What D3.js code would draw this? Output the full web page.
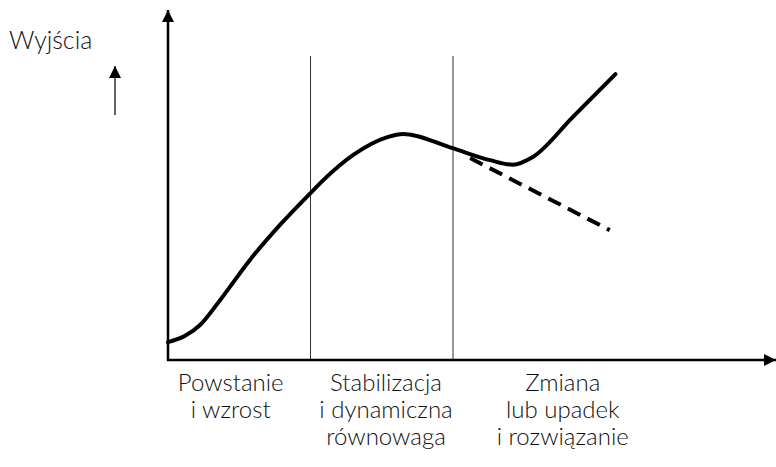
<!DOCTYPE html>
<html>
<head>
<meta charset="utf-8">
<script src="https://cdn.jsdelivr.net/npm/d3@7"></script>
<style>
  body { margin: 0; background: #fff; }
  text { font-family: Lato, "Noto Sans", sans-serif; font-weight: 300; fill: #111; }
</style>
</head>
<body>
<div id="chart"></div>
<script>
'use strict';

// Stage boundaries (x units) and stage labels
const stageBounds = [1, 2];
const stageCenters = [0.44, 1.53, 2.77];
const stageLabels = [
  ["Powstanie", "i wzrost"],
  ["Stabilizacja", "i dynamiczna", "równowaga"],
  ["Zmiana", "lub upadek", "i rozwiązanie"]
];

// Main curve (time, output)
const curveX = [0, 0.12, 0.225, 0.365, 0.575, 0.786, 1.0, 1.09, 1.30, 1.54, 1.65, 1.99, 2.26, 2.42, 2.56, 2.84, 3.14];
const curveY = [0.51, 0.69, 1.0, 1.71, 2.86, 3.86, 4.77, 5.14, 5.86, 6.37, 6.46, 6.06, 5.71, 5.58, 5.8, 6.94, 8.17];

// Decline branch (dashed)
const declineX = [2.12, 3.10];
const declineY = [5.77, 3.71];

const yLabel = "Wyjścia";

// Canvas
const W = 776, H = 467;
const svg = d3.select("#chart").append("svg")
  .attr("width", W)
  .attr("height", H);

const x = d3.scaleLinear().domain([0, 3]).range([168, 595.5]);
const y = d3.scaleLinear().domain([0, 10]).range([360, 10]);

const xEnd = W, yTop = 10;

// arrow heads
const defs = svg.append("defs");
defs.append("marker")
  .attr("id", "arrow")
  .attr("viewBox", "0 0 10 10")
  .attr("refX", 10).attr("refY", 5)
  .attr("markerWidth", 12).attr("markerHeight", 12)
  .attr("markerUnits", "userSpaceOnUse")
  .attr("orient", "auto")
  .append("path")
  .attr("d", "M0,0L10,5L0,10Z")
  .attr("fill", "#000");

// stage dividers
svg.selectAll("line.divider")
  .data(stageBounds)
  .enter()
  .append("line")
  .attr("class", "divider")
  .attr("x1", d => x(d)).attr("x2", d => x(d))
  .attr("y1", 56).attr("y2", y(0))
  .attr("stroke", "#333")
  .attr("stroke-width", 1);

// axes
svg.append("line")
  .attr("x1", x(0)).attr("x2", x(0))
  .attr("y1", y(0) + 1).attr("y2", yTop)
  .attr("stroke", "#000").attr("stroke-width", 2.5)
  .attr("marker-end", "url(#arrow)");
svg.append("line")
  .attr("x1", x(0) - 1).attr("x2", xEnd)
  .attr("y1", y(0)).attr("y2", y(0))
  .attr("stroke", "#000").attr("stroke-width", 2.5)
  .attr("marker-end", "url(#arrow)");

// main curve
const pts = curveX.map((d, i) => [d, curveY[i]]);
const line = d3.line()
  .x(d => x(d[0]))
  .y(d => y(d[1]))
  .curve(d3.curveMonotoneX);

svg.append("path")
  .attr("d", line(pts))
  .attr("fill", "none")
  .attr("stroke", "#000")
  .attr("stroke-width", 4)
  .attr("stroke-linecap", "round");

// dashed decline
const dpts = declineX.map((d, i) => [d, declineY[i]]);
svg.append("path")
  .attr("d", d3.line().x(d => x(d[0])).y(d => y(d[1]))(dpts))
  .attr("fill", "none")
  .attr("stroke", "#000")
  .attr("stroke-width", 4)
  .attr("stroke-dasharray", "14 8");

// y label with small arrow
svg.append("text")
  .attr("x", 9).attr("y", 49)
  .style("font-size", "25px")
  .text(yLabel);
svg.append("line")
  .attr("x1", 115).attr("x2", 115)
  .attr("y1", 115).attr("y2", 66)
  .attr("stroke", "#666").attr("stroke-width", 2)
  .attr("marker-end", "url(#arrow)");

// stage labels
const groups = svg.selectAll("g.stage")
  .data(stageLabels)
  .enter()
  .append("g")
  .attr("class", "stage");

groups.each(function(lines, i) {
  d3.select(this).selectAll("text")
    .data(lines)
    .enter()
    .append("text")
    .attr("x", x(stageCenters[i]))
    .attr("y", (d, j) => 391 + j * 27)
    .attr("text-anchor", "middle")
    .style("font-size", "24px")
    .text(d => d);
});
</script>
</body>
</html>
